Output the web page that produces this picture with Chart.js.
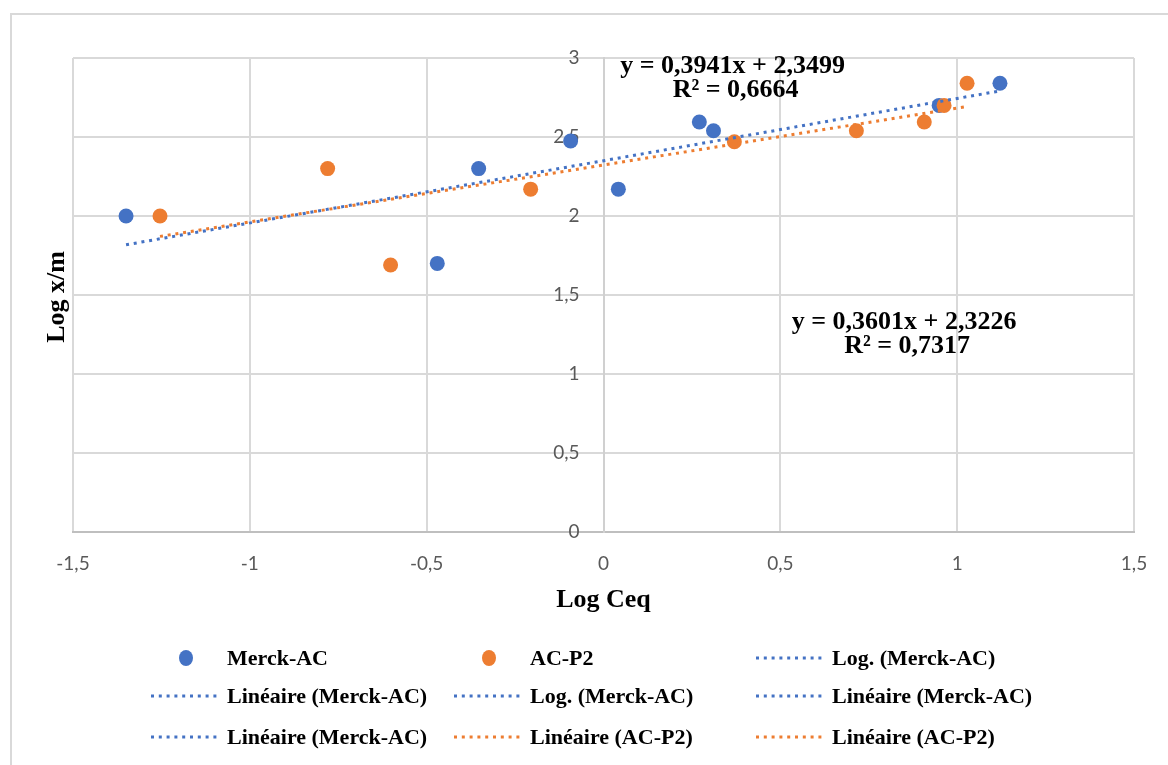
<!DOCTYPE html>
<html>
<head>
<meta charset="utf-8">
<script src="https://cdn.jsdelivr.net/npm/chart.js@4.4.1/dist/chart.umd.min.js"></script>
<style>
    body { margin: 0; background: #fff; }
    #wrap { position: relative; width: 1168px; height: 765px; overflow: hidden; background: #fff; }
    #frame { position: absolute; left: 10px; top: 13px; width: 1200px; height: 800px; border: 2px solid #d9d9d9; }
    #chart { position: absolute; left: 0; top: 0; }
    .leg { position: absolute; font: bold 22px "Liberation Serif", "Times New Roman", serif; color: #000; white-space: nowrap; line-height: 26px; }
    .leg svg { position: absolute; top: 0; }
</style>
</head>
<body>
<div id="wrap">
    <div id="frame"></div>
    <canvas id="chart" width="1168" height="765"></canvas>
    <div id="legend"></div>
</div>
<script>
// Log Ceq / Log x/m values per adsorbent
var merckX = [-1.35, -0.47, -0.353, -0.093, 0.042, 0.271, 0.311, 0.949, 1.121];
var merckY = [2.0, 1.70, 2.30, 2.475, 2.17, 2.595, 2.54, 2.70, 2.84];
var acX = [-1.254, -0.78, -0.602, -0.206, 0.37, 0.715, 0.907, 0.963, 1.028];
var acY = [2.0, 2.30, 1.69, 2.17, 2.47, 2.54, 2.595, 2.70, 2.84];

// linear fits as printed on the chart
var fitSlopes = [0.3941, 0.3601];
var fitIntercepts = [2.3499, 2.3226];
var fitR2 = [0.6664, 0.7317];

var xTicks = [-1.5, -1, -0.5, 0, 0.5, 1, 1.5];
var yTicks = [0, 0.5, 1, 1.5, 2, 2.5, 3];

var blue = '#4472c4';
var orange = '#ed7d31';

function toPoints(xs, ys) {
    return xs.map(function(x, i){ return {x: x, y: ys[i]}; });
}
function fitLine(xs, k) {
    var lo = Math.min.apply(null, xs), hi = Math.max.apply(null, xs);
    return [lo, hi].map(function(x){ return {x: x, y: fitIntercepts[k] + fitSlopes[k] * x}; });
}
function comma(v) {
    return String(v).replace('.', ',');
}
function fmt(v) {
    return v.toFixed(4).replace('.', ',');
}

// equations: [fit index, centre x, centre y of first line] in axis units
var eqPos = [[0, 0.365, 2.95], [1, 0.85, 1.33]];

var textPlugin = {
    id: 'texts',
    afterDraw: function(chart) {
        var ctx = chart.ctx;
        var sx = chart.scales.x, sy = chart.scales.y;
        ctx.save();
        ctx.fillStyle = '#000';
        ctx.textAlign = 'center';
        ctx.textBaseline = 'middle';
        ctx.font = 'bold 26px "Liberation Serif", serif';
        eqPos.forEach(function(e){
            var k = e[0];
            var px = sx.getPixelForValue(e[1]);
            var py = sy.getPixelForValue(e[2]);
            ctx.fillText('y = ' + fmt(fitSlopes[k]) + 'x + ' + fmt(fitIntercepts[k]), px, py);
            ctx.fillText('R² = ' + fmt(fitR2[k]), px + 3, py + 24);
        });
        ctx.translate(57, 297);
        ctx.rotate(-Math.PI / 2);
        ctx.fillText('Log x/m', 0, 0);
        ctx.restore();
    }
};

var dotted = [3, 4.8];

new Chart(document.getElementById('chart'), {
    type: 'scatter',
    data: {
        datasets: [
            { label: 'Linéaire (Merck-AC)', type: 'line', data: fitLine(merckX, 0), borderColor: blue, borderWidth: 3, borderDash: dotted, pointRadius: 0, fill: false, order: 0 },
            { label: 'Linéaire (AC-P2)', type: 'line', data: fitLine(acX, 1), borderColor: orange, borderWidth: 3, borderDash: dotted, pointRadius: 0, fill: false, order: 0 },
            { label: 'AC-P2', data: toPoints(acX, acY), backgroundColor: orange, borderWidth: 0, pointRadius: 7.5, order: 1 },
            { label: 'Merck-AC', data: toPoints(merckX, merckY), backgroundColor: blue, borderWidth: 0, pointRadius: 7.5, order: 2 }
        ]
    },
    options: {
        responsive: false,
        animation: false,
        layout: { padding: { left: 73, right: 34, top: 58, bottom: 149 } },
        plugins: { legend: { display: false }, tooltip: { enabled: false } },
        scales: {
            x: {
                type: 'linear', min: -1.5, max: 1.5,
                afterBuildTicks: function(s){ s.ticks = xTicks.map(function(v){ return {value: v}; }); },
                afterFit: function(s){ s.height = 84; },
                ticks: { color: '#595959', font: { family: 'Lato', size: 19 }, padding: 20, callback: comma },
                grid: { color: '#d9d9d9', lineWidth: 2, drawTicks: false },
                border: { color: '#bfbfbf', width: 2 },
                title: { display: true, text: 'Log Ceq', color: '#000', font: { family: 'Liberation Serif', size: 26, weight: 'bold' }, padding: { top: 0, bottom: 0 } }
            },
            y: {
                type: 'linear', min: 0, max: 3,
                // x range is symmetric, so the centre of the plot is x = 0
                position: 'center',
                afterBuildTicks: function(s){ s.ticks = yTicks.map(function(v){ return {value: v}; }); },
                ticks: { color: '#595959', font: { family: 'Lato', size: 19 }, padding: 24, callback: comma },
                grid: { color: '#d9d9d9', lineWidth: 2, drawTicks: false },
                border: { color: '#d0d0d0', width: 2 }
            }
        }
    },
    plugins: [textPlugin]
});

// legend laid out in three columns, like the workbook's
var legendItems = [
    ['dot', blue, 'Merck-AC', 227, 658],
    ['dot', orange, 'AC-P2', 530, 658],
    ['line', blue, 'Log. (Merck-AC)', 832, 658],
    ['line', blue, 'Linéaire (Merck-AC)', 227, 696],
    ['line', blue, 'Log. (Merck-AC)', 530, 696],
    ['line', blue, 'Linéaire (Merck-AC)', 832, 696],
    ['line', blue, 'Linéaire (Merck-AC)', 227, 737],
    ['line', orange, 'Linéaire (AC-P2)', 530, 737],
    ['line', orange, 'Linéaire (AC-P2)', 832, 737]
];
var html = '';
legendItems.forEach(function(it){
    var mark;
    if (it[0] == 'dot') {
        mark = '<svg width="20" height="26" style="left:-51px"><ellipse cx="10" cy="13" rx="7" ry="8" fill="' + it[1] + '"/></svg>';
    } else {
        mark = '<svg width="72" height="26" style="left:-78px"><line x1="2" y1="13" x2="72" y2="13" stroke="' + it[1] + '" stroke-width="3" stroke-dasharray="3 4.8"/></svg>';
    }
    html += '<div class="leg" style="left:' + it[3] + 'px;top:' + (it[4] - 13) + 'px">' + mark + it[2] + '</div>';
});
document.getElementById('legend').innerHTML = html;
</script>
</body>
</html>
